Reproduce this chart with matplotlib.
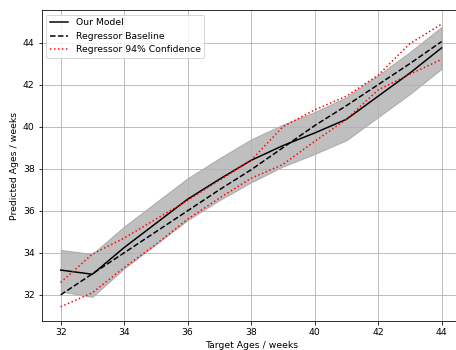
import matplotlib
matplotlib.use("Agg")
from matplotlib import pyplot as plt

plt.rcParams['font.size'] = 9.2

# target ages (weeks)
target_ages = [32, 33, 34, 35, 36, 37, 38, 39, 40, 41, 42, 43, 44]

# our model prediction and its spread
model_pred = [33.18, 32.98, 34.25, 35.4, 36.55, 37.5, 38.4, 39.1, 39.7, 40.35, 41.45, 42.55, 43.75]
model_lower = [32.16, 31.9, 33.25, 34.4, 35.55, 36.5, 37.35, 38.1, 38.7, 39.35, 40.45, 41.55, 42.75]
model_upper = [34.14, 33.95, 35.25, 36.4, 37.55, 38.5, 39.4, 40.1, 40.7, 41.4, 42.45, 43.55, 44.75]

# regressor baseline and its 94% confidence curves
baseline = [32.0, 33.0, 34.0, 35.0, 36.0, 37.0, 37.95, 39.0, 40.05, 41.0, 42.0, 43.0, 44.05]
conf_upper = [32.59, 33.94, 34.7, 35.6, 36.5, 37.45, 38.4, 40.0, 40.8, 41.45, 42.45, 43.95, 44.88]
conf_lower = [31.43, 32.1, 33.3, 34.4, 35.6, 36.6, 37.55, 38.2, 39.3, 40.35, 41.75, 42.5, 43.2]

fig = plt.figure(figsize=(456 / 72, 350 / 72), dpi=72)
ax = fig.add_axes([0.0912, 0.0829, 0.919, 0.8886])

ax.grid(True)
ax.plot(target_ages, model_pred, 'k-', label='Our Model')
ax.fill_between(target_ages, model_lower, model_upper, color='gray', alpha=0.5)
ax.plot(target_ages, baseline, 'k--', label='Regressor Baseline')
ax.plot(target_ages, conf_upper, 'r:', label='Regressor 94% Confidence')
ax.plot(target_ages, conf_lower, 'r:')

ax.set_xticks([32, 34, 36, 38, 40, 42, 44])
ax.set_yticks([32, 34, 36, 38, 40, 42, 44])
ax.set_xlabel('Target Ages / weeks')
ax.set_ylabel('Predicted Ages / weeks')
ax.legend(loc='upper left')

fig.savefig('out.png', dpi=72)
